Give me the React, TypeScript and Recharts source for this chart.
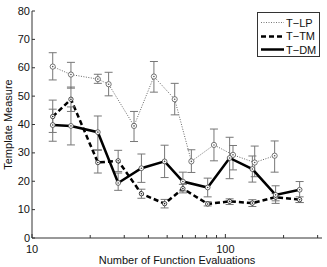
import React from 'react'
import { ComposedChart, Line, XAxis, YAxis, ErrorBar } from 'recharts'

// x positions (function evaluations)
const lpEvals = [12.8, 15.9, 21.9, 24.9, 33.7, 42.7, 54.7, 66.7, 87.3, 109.5, 141.8, 179.8]
const dmEvals = [12.8, 15.9, 21.9, 27.9, 36.8, 48.5, 60.3, 81.0, 105.2, 137.9, 181.9, 242.1]

const lpMeasure = [60.4, 57.6, 56.0, 54.2, 39.5, 56.9, 48.9, 27.0, 32.8, 29.3, 26.6, 29.0]
const lpError = [[4.7, 4.9], [4.8, 4.3], [1.5, 1.7], [4.1, 4.2], [5.5, 5.1], [5.5, 5.3], [5.5, 5.6], [3.9, 4.1], [5.6, 5.6], [5.3, 3.3], [5.0, 5.8], [5.8, 5.2]]

const tmMeasure = [42.8, 48.9, 26.6, 27.2, 15.6, 12.1, 17.4, 12.0, 12.9, 12.3, 14.4, 13.5]
const tmError = [[5.6, 5.8], [4.3, 4.3], [3.7, 4.3], [3.8, 3.7], [1.6, 1.6], [1.5, 1.5], [1.5, 1.5], [0.7, 0.8], [1.1, 0.9], [1.2, 1.2], [1.3, 1.3], [1.0, 1.0]]

const dmMeasure = [39.8, 39.5, 37.3, 19.4, 24.6, 27.0, 19.9, 17.8, 28.2, 24.3, 15.2, 17.0]
const dmError = [[5.7, 5.6], [6.7, 6.7], [6.2, 5.7], [2.6, 3.5], [5.0, 5.0], [5.7, 5.7], [3.3, 3.3], [3.3, 3.3], [7.3, 7.3], [4.6, 4.6], [3.0, 3.2], [4.5, 2.9]]

const majorTicks = [10, 100]
const xTicks = [10, 20, 30, 40, 50, 60, 70, 80, 90, 100, 200, 300]
const yTicks = [0, 10, 20, 30, 40, 50, 60, 70, 80]

const lpData = lpEvals.map((x, i) => ({ x, y: lpMeasure[i], err: lpError[i] }))
const tmData = dmEvals.map((x, i) => ({ x, y: tmMeasure[i], err: tmError[i] }))
const dmData = dmEvals.map((x, i) => ({ x, y: dmMeasure[i], err: dmError[i] }))

const font = '"Liberation Sans", Arial, Helvetica, sans-serif'
const axisColor = '#333'

const BottomTick = (props: any) => {
  const { x, y, payload } = props
  const major = majorTicks.includes(payload.value)
  return (
    <g>
      <line x1={x} y1={y} x2={x} y2={y - (major ? 4 : 3)} stroke={axisColor} />
      {major && (
        <text x={x} y={y + 15} textAnchor="middle" fontSize={11} fill="#111" fontFamily={font}>
          {payload.value}
        </text>
      )}
    </g>
  )
}

const TopTick = (props: any) => {
  const { x, y, payload } = props
  const major = majorTicks.includes(payload.value)
  return <line x1={x} y1={y} x2={x} y2={y + (major ? 4 : 3)} stroke={axisColor} />
}

const LeftTick = (props: any) => {
  const { x, y, payload } = props
  return (
    <g>
      <line x1={x} y1={y} x2={x + 3} y2={y} stroke={axisColor} />
      <text x={x - 2} y={y + 3.5} textAnchor="end" fontSize={11} fill="#111" fontFamily={font}>
        {payload.value}
      </text>
    </g>
  )
}

const RightTick = (props: any) => {
  const { x, y } = props
  return <line x1={x} y1={y} x2={x - 3} y2={y} stroke={axisColor} />
}

const ringDot = (color: string, r: number) => (props: any) => {
  const { cx, cy, index } = props
  if (cx == null || cy == null) return <g key={index} />
  return (
    <g key={index}>
      <circle cx={cx} cy={cy} r={r} stroke={color} strokeWidth={0.8} fill="#fff" />
      <circle cx={cx} cy={cy} r={0.8} fill={color} />
    </g>
  )
}

const LegendBox = () => {
  const rows = [
    { name: 'T\u2212LP', color: '#777', width: 1, dash: '1 1.5' },
    { name: 'T\u2212TM', color: '#000', width: 2.5, dash: '5 3' },
    { name: 'T\u2212DM', color: '#000', width: 2.5, dash: undefined },
  ]
  return (
    <div
      style={{
        position: 'absolute',
        left: 257,
        top: 12,
        width: 61,
        height: 43,
        border: `1px solid ${axisColor}`,
        background: '#fff',
        fontFamily: font,
        fontSize: 11,
        color: '#111',
      }}
    >
      {rows.map((r, i) => (
        <div key={r.name} style={{ position: 'absolute', left: 2, top: 3 + i * 13.5, height: 13, display: 'flex', alignItems: 'center' }}>
          <svg width={24} height={13}>
            <line x1={1} y1={6.5} x2={24} y2={6.5} stroke={r.color} strokeWidth={r.width} strokeDasharray={r.dash} />
          </svg>
          <span style={{ marginLeft: 2 }}>{r.name}</span>
        </div>
      ))}
    </div>
  )
}

export default function App() {
  return (
    <div style={{ position: 'absolute', left: 0, top: 0, width: 327, height: 267, background: '#fff' }}>
      <ComposedChart width={327} height={267} margin={{ top: 11, right: 5, bottom: 0, left: 0 }}>
        <XAxis
          type="number"
          dataKey="x"
          scale="log"
          domain={[10, 316]}
          allowDataOverflow
          ticks={xTicks}
          interval={0}
          height={29}
          tickSize={0}
          tickMargin={0}
          tick={<BottomTick />}
          axisLine={{ stroke: axisColor }}
          label={{ value: 'Number of Function Evaluations', position: 'insideBottom', offset: 3, fontSize: 11, fill: '#111', fontFamily: font }}
        />
        <XAxis
          xAxisId="top"
          orientation="top"
          type="number"
          dataKey="x"
          scale="log"
          domain={[10, 316]}
          allowDataOverflow
          ticks={xTicks}
          interval={0}
          height={0}
          tickSize={0}
          tickMargin={0}
          tick={<TopTick />}
          axisLine={{ stroke: axisColor }}
        />
        <YAxis
          type="number"
          domain={[0, 80]}
          ticks={yTicks}
          interval={0}
          width={32}
          tickSize={0}
          tickMargin={0}
          tick={<LeftTick />}
          axisLine={{ stroke: axisColor }}
          label={{ value: 'Template Measure', angle: -90, position: 'insideLeft', offset: 8, fontSize: 11, fill: '#111', fontFamily: font, style: { textAnchor: 'middle' } }}
        />
        <YAxis
          yAxisId="right"
          orientation="right"
          type="number"
          domain={[0, 80]}
          ticks={yTicks}
          interval={0}
          width={0}
          tickSize={0}
          tickMargin={0}
          tick={<RightTick />}
          axisLine={{ stroke: axisColor }}
        />
        <Line
          data={lpData}
          dataKey="y"
          stroke="#666"
          strokeWidth={1}
          strokeDasharray="1 1.5"
          dot={ringDot('#555', 2.6)}
          isAnimationActive={false}
        >
          <ErrorBar dataKey="err" width={4} stroke="#777" strokeWidth={1} direction="y" />
        </Line>
        <Line
          data={tmData}
          dataKey="y"
          stroke="#000"
          strokeWidth={2.5}
          strokeDasharray="5 3"
          dot={ringDot('#222', 2.2)}
          isAnimationActive={false}
        >
          <ErrorBar dataKey="err" width={4} stroke="#777" strokeWidth={1} direction="y" />
        </Line>
        <Line
          data={dmData}
          dataKey="y"
          stroke="#000"
          strokeWidth={2.5}
          dot={ringDot('#444', 2.4)}
          isAnimationActive={false}
        >
          <ErrorBar dataKey="err" width={4} stroke="#777" strokeWidth={1} direction="y" />
        </Line>
      </ComposedChart>
      <LegendBox />
    </div>
  )
}
